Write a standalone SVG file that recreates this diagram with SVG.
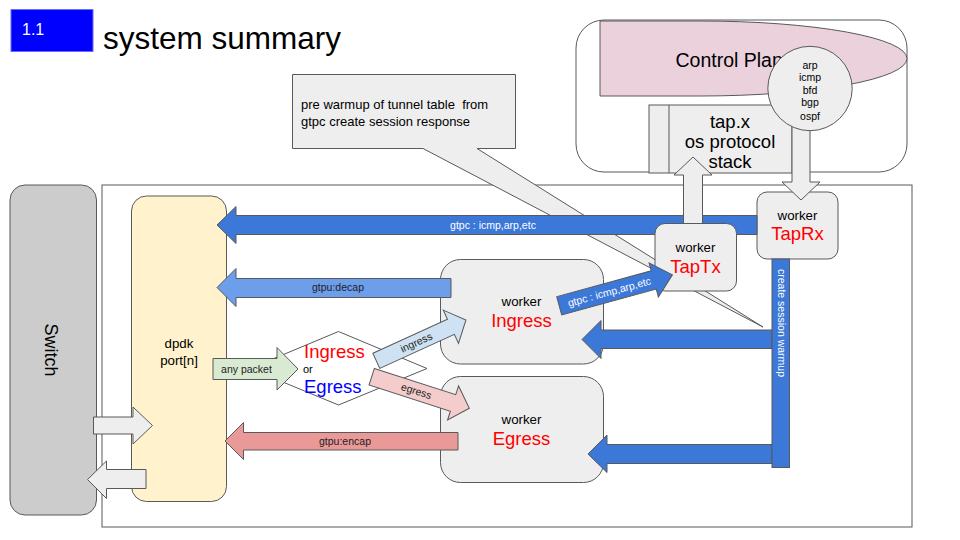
<svg xmlns="http://www.w3.org/2000/svg" width="960" height="540" viewBox="0 0 960 540">
<style>
text{font-family:"Liberation Sans",Arial,sans-serif;}
.ln{stroke:#595959;stroke-width:1;}
.box{fill:#eeeeee;stroke:#595959;stroke-width:1;}
.wk{font-size:13.3px;fill:#000;text-anchor:middle;}
.wr{font-size:18.5px;fill:#ff0000;text-anchor:middle;}
.lbw{font-size:10.5px;fill:#ffffff;text-anchor:middle;}
.lbd{font-size:10.5px;fill:#222222;text-anchor:middle;}
.blue{fill:#3c78d8;stroke:#595959;stroke-width:1;}
.gray{fill:#eeeeee;stroke:#595959;stroke-width:1;}
.pr{font-size:10.5px;text-anchor:middle;fill:#000;}
.tx{font-size:18.5px;text-anchor:middle;fill:#000;}
</style>
<rect width="960" height="540" fill="#ffffff"/>
<g id="title">
<rect x="11" y="9.5" width="82" height="42" fill="#0000ff" stroke="#6d6dff" stroke-width="1"/>
<text x="22" y="35" font-size="16" fill="#ffffff">1.1</text>
<text x="103" y="49" font-size="31.5" fill="#000000">system summary</text>
</g>
<g id="control-plane-box">
<rect x="576" y="20" width="331" height="152" rx="28" fill="#ffffff" class="ln"/>
</g>
<g id="control-plane">
<path d="M600,21 L700,21 A207,37.5 0 0 1 700,96 L600,96 Z" fill="#ead1dc" class="ln"/>
<text x="675.5" y="66.5" font-size="19.5" fill="#000">Control Plane</text>
</g>
<g id="tapx">
<rect x="649" y="105" width="143" height="68" class="box"/>
<line x1="669" y1="105" x2="669" y2="173" class="ln"/>
<text x="730" y="128" class="tx">tap.x</text>
<text x="730" y="148" class="tx">os protocol</text>
<text x="730" y="168" class="tx">stack</text>
</g>
<g id="main-frame">
<rect x="102" y="185" width="810" height="342" fill="none" class="ln"/>
</g>
<g id="switch">
<rect x="10" y="185" width="86.5" height="330" rx="15" fill="#cccccc" class="ln"/>
<text transform="translate(45,350) rotate(90)" font-size="18" text-anchor="middle" fill="#000">Switch</text>
</g>
<g id="callout">
<path d="M292.5,74.5 H515.5 V148.5 H477 L763,327 L423,148.5 H292.5 Z" class="gray"/>
<text x="301" y="108.5" font-size="13" fill="#000" xml:space="preserve">pre warmup of tunnel table  from</text>
<text x="301" y="126" font-size="13" fill="#000">gtpc create session response</text>
</g>
<g id="dpdk">
<rect x="131.5" y="196" width="95" height="305.5" rx="15" fill="#fff2cc" class="ln"/>
<text x="179" y="347.5" font-size="13.3" text-anchor="middle">dpdk</text>
<text x="179" y="364.5" font-size="13.3" text-anchor="middle">port[n]</text>
</g>
<g id="worker-ingress">
<rect x="440.5" y="259.5" width="163" height="104.5" rx="20" class="box"/>
<text x="521.5" y="306" class="wk">worker</text>
<text x="521.5" y="327" class="wr">Ingress</text>
</g>
<g id="worker-egress">
<rect x="440.5" y="376.5" width="163" height="106" rx="20" class="box"/>
<text x="521.5" y="424" class="wk">worker</text>
<text x="521.5" y="444.5" class="wr">Egress</text>
</g>
<g id="worker-taprx">
<rect x="757" y="192" width="81" height="67" rx="10" class="box"/>
<text x="797.5" y="219.5" class="wk">worker</text>
<text x="797.5" y="239.5" class="wr">TapRx</text>
</g>
<g id="decision">
<polygon points="338.5,331.5 427,368.5 338.5,405 250,368.5" fill="#ffffff" class="ln"/>
<text x="304" y="358" font-size="18.5" fill="#ff0000">Ingress</text>
<text x="303" y="373" font-size="11" fill="#000">or</text>
<text x="304" y="393" font-size="18.5" fill="#0000ff">Egress</text>
</g>
<g id="connectors">
<polygon points="217,225 236,206.5 236,215.5 757,215.5 757,234.5 236,234.5 236,243.5" class="blue"/>
<text x="493" y="228.5" class="lbw">gtpc : icmp,arp,etc</text>
<polygon points="217,287.5 236,268.5 236,278.5 451,278.5 451,297.5 236,297.5 236,306.5" fill="#6d9eeb" class="ln"/>
<text x="338" y="291" class="lbd">gtpu:decap</text>
<polygon points="225,441 243.5,422.5 243.5,432.5 458,432.5 458,450 243.5,450 243.5,459.5" fill="#ea9999" class="ln"/>
<text x="345" y="444.5" class="lbd">gtpu:encap</text>
<polygon points="582,339.5 601,320.5 601,330 772,330 772,348.5 601,348.5 601,358.5" class="blue"/>
<polygon points="588,454 607,435 607,444.5 772,444.5 772,463.5 607,463.5 607,472.5" class="blue"/>
<rect x="772" y="259" width="17.5" height="208.5" class="blue"/>
<text transform="translate(778,323) rotate(90)" class="lbw">create session warmup</text>
<polygon points="213,358.5 277,358.5 277,347.5 298,369 277,390 277,379.5 213,379.5" fill="#d9ead3" class="ln"/>
<text x="246.5" y="372.5" class="lbd">any packet</text>
<polygon points="93.5,417 133,417 133,407 152.5,425.5 133,444 133,434 93.5,434" class="gray"/>
<polygon points="87.5,479.5 106.5,461 106.5,469.5 146,469.5 146,488.5 106.5,488.5 106.5,498.5" class="gray"/>
<g transform="translate(376.3,360.8) rotate(-24.5)">
<polygon points="0,-8.3 82,-8.3 82,-18.3 98.5,0 82,18.3 82,8.3 0,8.3" fill="#cfe2f3" class="ln"/>
<text x="44" y="3.5" class="lbd">ingress</text>
</g>
<g transform="translate(371.7,376.7) rotate(17.9)">
<polygon points="0,-8.7 85.5,-8.7 85.5,-17.9 102.6,0 85.5,17.9 85.5,8.7 0,8.7" fill="#f4cccc" class="ln"/>
<text x="47" y="3.5" class="lbd">egress</text>
</g>
<polygon points="683.5,223.5 683.5,175 674,175 693,157 712,175 702.5,175 702.5,223.5" class="gray"/>
</g>
<g id="worker-taptx">
<rect x="655" y="223.5" width="81.5" height="67.5" rx="10" class="box"/>
<text x="695.5" y="252" class="wk">worker</text>
<text x="695.5" y="272.5" class="wr">TapTx</text>
</g>
<g id="gtpc-to-taptx">
<g transform="translate(559.2,305.8) rotate(-15.3)">
<polygon points="0,-9.5 98,-9.5 98,-17.7 117.4,0 98,17.7 98,9.5 0,9.5" class="blue"/>
<text x="52" y="3.5" class="lbw">gtpc : icmp,arp,etc</text>
</g>
</g>
<g id="protocols">
<polygon points="792,120 810,120 810,182 820,182 801,200 782,182 792,182" class="gray"/>
<circle cx="810" cy="88.5" r="42.2" class="box"/>
<text x="810" y="68.5" class="pr">arp</text>
<text x="810" y="81" class="pr">icmp</text>
<text x="810" y="93.5" class="pr">bfd</text>
<text x="810" y="106" class="pr">bgp</text>
<text x="810" y="120" class="pr">ospf</text>
</g>
</svg>
